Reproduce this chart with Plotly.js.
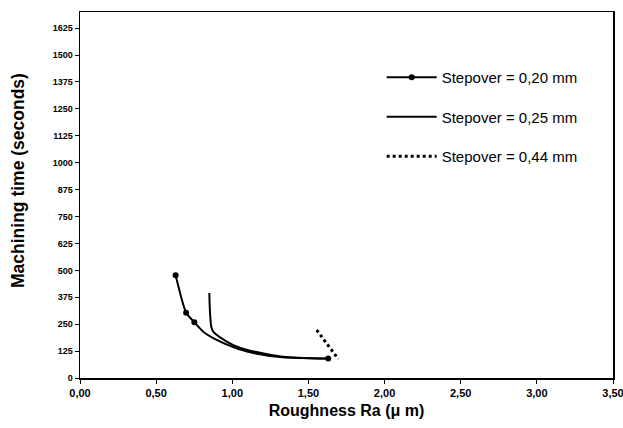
<!DOCTYPE html>
<html>
<head>
<meta charset="utf-8">
<script src="https://cdn.plot.ly/plotly-3.0.1.min.js"></script>
<style>html,body{margin:0;padding:0;background:#fff;}#chart{width:623px;height:428px;}</style>
</head>
<body>
<div id="chart"></div>
<script>
const ra020 = [0.628, 0.697, 0.751, 0.81, 0.90, 1.01, 1.12, 1.33, 1.63];
const time020 = [477, 303, 259, 215, 176, 143, 119, 96, 90];
const isMeasured020 = [1, 1, 1, 0, 0, 0, 0, 0, 1];
// Stepover = 0,25 mm
const ra025 = [0.849, 0.854, 0.862, 0.875, 0.92, 1.007, 1.116, 1.335, 1.62];
const time025 = [395, 300, 238, 215, 189, 153, 127, 99, 90];
// Stepover = 0,44 mm
const ra044 = [1.554, 1.696];
const time044 = [223, 88];

const names = ['Stepover = 0,20 mm', 'Stepover = 0,25 mm', 'Stepover = 0,44 mm'];
const yTicks = [0,125,250,375,500,625,750,875,1000,1125,1250,1375,1500,1625];
const xTicks = [0,0.5,1,1.5,2,2.5,3,3.5];
const xTickText = ['0,00','0,50','1,00','1,50','2,00','2,50','3,00','3,50'];
const xTitle = 'Roughness Ra (μ m)';
const yTitle = 'Machining time (seconds)';

const FONT = 'Liberation Sans, Arial, sans-serif';

const traces = [
  {x: ra020, y: time020, name: names[0], legendgroup: 'a', mode: 'lines+markers',
   line: {color: '#000', width: 2, shape: 'spline', smoothing: 0.6},
   marker: {size: 6, color: isMeasured020.map(m => m ? '#000' : 'rgba(0,0,0,0)')}},
  {x: ra025, y: time025, name: names[1], legendgroup: 'b', mode: 'lines',
   line: {color: '#000', width: 2, shape: 'spline', smoothing: 0.6}},
  {x: ra044, y: time044, name: names[2], legendgroup: 'c', mode: 'lines',
   line: {color: '#000', width: 3, dash: 'dot'}}
];

const layout = {
  width: 623, height: 428,
  margin: {l: 80, r: 10, t: 12, b: 50},
  paper_bgcolor: '#fff', plot_bgcolor: '#fff',
  font: {family: FONT, color: '#000'},
  showlegend: true,
  legend: {x: 0.566, y: 0.866, xanchor: 'left', yanchor: 'top', bgcolor: 'rgba(0,0,0,0)',
    font: {size: 15, family: FONT, color: '#000'},
    tracegroupgap: 17, traceorder: 'grouped', itemwidth: 50},
  xaxis: {range: [0, 3.5], tickvals: xTicks, ticktext: xTickText,
    showgrid: false, zeroline: false, showline: true, mirror: true, linecolor: '#000', linewidth: 1.5,
    ticks: 'outside', ticklen: 4, tickcolor: '#000', ticklabeloverflow: 'allow',
    tickfont: {size: 11, family: FONT, weight: 'bold'},
    title: {text: '<b>' + xTitle + '</b>', font: {size: 16}, standoff: 7}},
  yaxis: {range: [0, 1700], tickvals: yTicks,
    showgrid: false, zeroline: false, showline: true, mirror: true, linecolor: '#000', linewidth: 1.5,
    ticks: 'outside', ticklen: 4, tickcolor: '#000',
    tickfont: {size: 9, family: FONT, weight: 'bold'}},
  annotations: [
    {text: '<b>' + yTitle + '</b>', textangle: -90, xref: 'paper', yref: 'paper',
     x: -62 / 533, y: (378 - 181) / 366, xanchor: 'center', yanchor: 'middle',
     showarrow: false, font: {size: 17.5, family: FONT, color: '#000'}}
  ]
};

Plotly.newPlot('chart', traces, layout, {displayModeBar: false, staticPlot: true});
</script>
</body>
</html>
